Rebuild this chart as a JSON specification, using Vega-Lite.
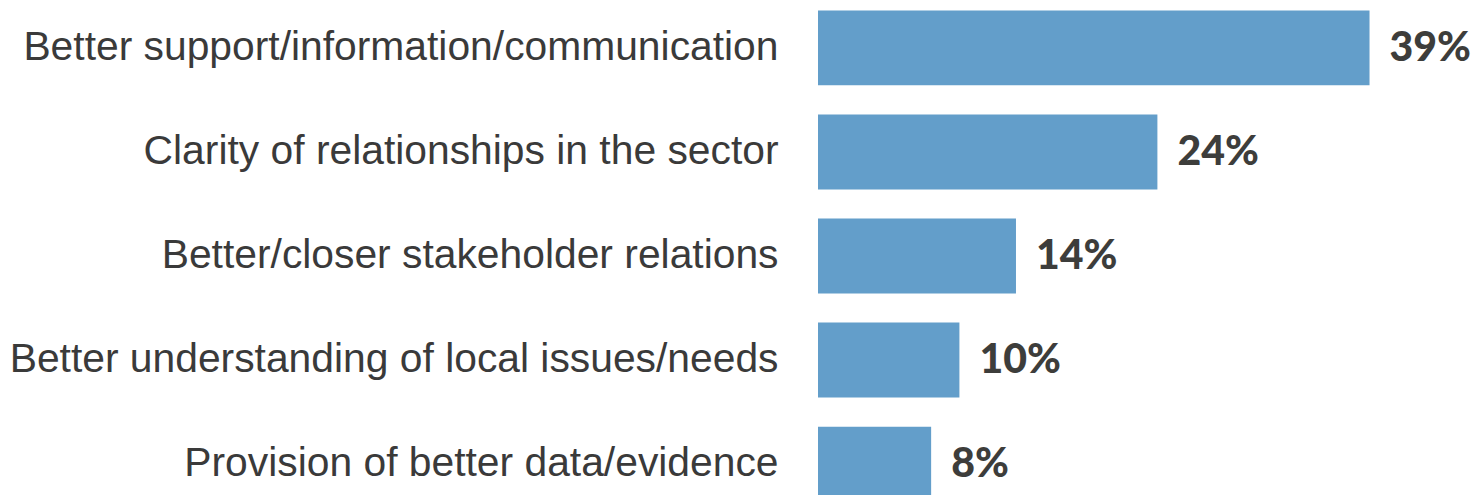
{
  "$schema": "https://vega.github.io/schema/vega-lite/v6.json",
  "autosize": {"type": "none"},
  "padding": {"left": 818, "top": 0, "right": 0, "bottom": 0},
  "width": 659,
  "height": 512,
  "background": "white",
  "data": {
    "values": [
      {"item": "Better support/information/communication", "pct": 0.39},
      {"item": "Clarity of relationships in the sector", "pct": 0.24},
      {"item": "Better/closer stakeholder relations", "pct": 0.14},
      {"item": "Better understanding of local issues/needs", "pct": 0.10},
      {"item": "Provision of better data/evidence", "pct": 0.08}
    ]
  },
  "encoding": {
    "y": {
      "field": "item",
      "type": "nominal",
      "sort": null,
      "scale": {"paddingInner": 0.28, "paddingOuter": 0.1},
      "axis": {
        "title": null,
        "domain": false,
        "ticks": false,
        "labelPadding": 40,
        "labelFont": "Liberation Sans",
        "labelFontWeight": "normal",
        "labelFontSize": 40.8,
        "labelColor": "#3a3a3a",
        "labelLimit": 900
      }
    },
    "x": {
      "field": "pct",
      "type": "quantitative",
      "scale": {"domain": [0, 0.466], "nice": false},
      "axis": null
    }
  },
  "layer": [
    {"mark": {"type": "bar", "color": "#639ECA"}},
    {
      "mark": {
        "type": "text",
        "align": "left",
        "baseline": "middle",
        "dx": 20,
        "dy": 1,
        "font": "Lato",
        "fontWeight": 900,
        "fontSize": 41,
        "color": "#3d3d3b"
      },
      "encoding": {"text": {"field": "pct", "type": "quantitative", "format": ".0%"}}
    }
  ],
  "config": {"view": {"stroke": null}}
}
